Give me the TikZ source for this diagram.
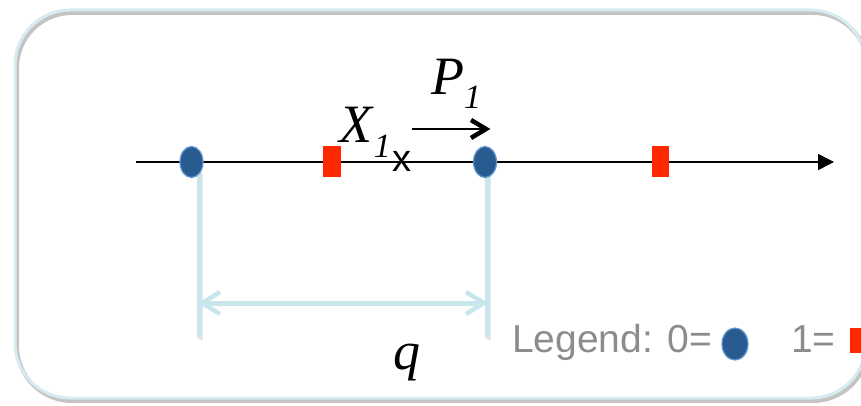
\documentclass[tikz,border=0pt]{standalone}
\usepackage{fontspec}
\setmainfont{Liberation Serif}
\setsansfont{Liberation Sans}
\usepackage{tikz}
\usetikzlibrary{positioning,arrows.meta,shapes.geometric}
\definecolor{zeroc}{RGB}{40,92,145}
\definecolor{zeroedge}{RGB}{100,150,210}
\definecolor{onec}{RGB}{255,40,0}
\definecolor{gapc}{RGB}{200,230,236}
\definecolor{framec}{RGB}{214,236,241}
\definecolor{shadowc}{RGB}{196,196,196}
\definecolor{legendc}{RGB}{140,140,140}
\newcommand{\sublbl}[2]{\fontsize{54}{54}\selectfont\textit{#1}\raisebox{-14pt}{\fontsize{34}{34}\selectfont\textit{#2}}}
\tikzset{
  zero/.style    = {ellipse, draw=zeroedge, line width=1.2pt, fill=zeroc, inner sep=0pt,
                    minimum width=23pt, minimum height=31pt},
  one/.style     = {rectangle, fill=onec, inner sep=0pt, minimum width=17.5pt, minimum height=31pt},
  axisline/.style= {-{Triangle[length=16pt,width=16pt]}, line width=1.5pt, draw=black},
  move/.style    = {line width=2pt, draw=black},
  movehead/.style= {line width=4.5pt, draw=black, line join=miter},
  gap/.style     = {line width=5pt, draw=gapc},
  gaphead/.style = {line width=4.5pt, draw=gapc, line join=miter},
  gapshadow/.style={line width=5pt, draw=shadowc!70, opacity=0.6},
  lbl/.style     = {inner sep=0pt, anchor=base west},
  legend/.style  = {inner sep=0pt, anchor=base west, text=legendc, font=\sffamily\fontsize{39}{39}\selectfont},
}

\begin{document}
\begin{tikzpicture}[x=1pt, y=-1pt]
\clip (0,0) rectangle (861,406);

% ---------- frame ----------
\draw[draw=shadowc, line width=4pt, rounded corners=55pt] (17,13) rectangle (868,401);
\draw[draw=framec, line width=3pt, rounded corners=55pt] (15,10) rectangle (866,398);

% ---------- number line ----------
\coordinate (axL) at (136,162);
\coordinate (axR) at (834,162);
\draw[axisline] (axL) -- (axR);

% ---------- gap q between the two zeros ----------
\coordinate (gL0) at (199,172);
\coordinate (gL1) at (199,337);
\coordinate (gR0) at (487,172);
\coordinate (gR1) at (487,337);
\coordinate (aL) at (202,303);
\coordinate (aR) at (484,303);
\draw[gapshadow] ([shift={(1.5,2.5)}]gL0) -- ([shift={(1.5,2.5)}]gL1);
\draw[gapshadow] ([shift={(1.5,2.5)}]gR0) -- ([shift={(1.5,2.5)}]gR1);
\draw[gap] (gL0) -- (gL1);
\draw[gap] (gR0) -- (gR1);
\draw[gap] (aL) -- (aR);
\draw[gaphead] ([shift={(18,-11)}]aL) -- (aL) -- ([shift={(18,11)}]aL);
\draw[gaphead] ([shift={(-18,-11)}]aR) -- (aR) -- ([shift={(-18,11)}]aR);
\node[lbl] (q) at (393,369) {\fontsize{54}{54}\selectfont\textit{q}};

% ---------- points ----------
\node[zero] (z1) at (191.5,162) {};
\node[zero] (z2) at (485,162) {};
\node[one] (o1) at (332,162) {};
\node[one] (o2) at (660.5,162) {};
\node[inner sep=0pt, font=\sffamily\fontsize{38}{38}\selectfont] (x1) at (402,161) {x};

% ---------- labels ----------
\node[lbl] (X1) at (339,143) {\sublbl{X}{1}};
\node[lbl] (P1) at (431,95) {\sublbl{P}{1}};
\coordinate (pS) at (412,129);
\coordinate (pE) at (486,129);
\draw[move] (pS) -- (pE);
\draw[movehead] ([shift={(-15,-9)}]pE) -- (pE) -- ([shift={(-15,9)}]pE);

% ---------- legend ----------
\node[legend] (leg0) at (512,352) {Legend: 0=};
\node[zero, minimum width=26pt, minimum height=32pt] (lz) at (735,344) {};
\node[legend] (leg1) at (791,352) {1=};
\node[one, minimum width=17.5pt, minimum height=25pt] (lo) at (858.5,340.5) {};

\end{tikzpicture}
\end{document}
